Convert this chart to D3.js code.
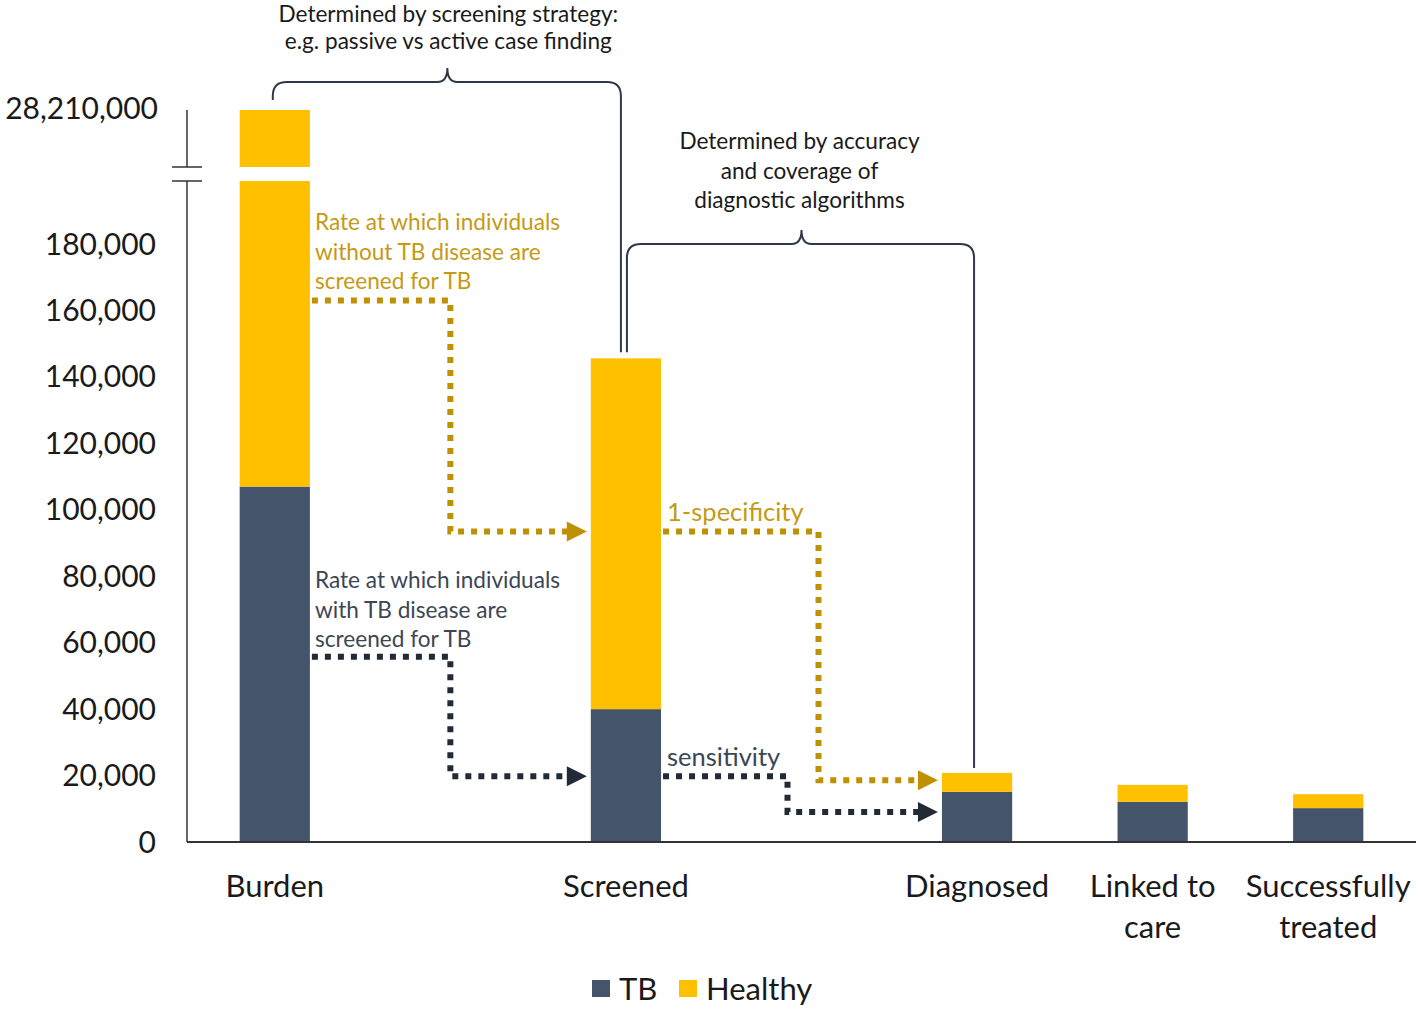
<!DOCTYPE html>
<html lang="en">
<head>
  <meta charset="UTF-8">
  <title>TB care cascade</title>
  <script src="https://d3js.org/d3.v7.min.js"></script>
  <style>
    body { margin: 0; background: #fff; }
    svg { font-family: Lato, "Open Sans", sans-serif; }
    .tick-label { font-size: 30px; fill: #1a1a1a; text-anchor: end; }
    .cat-label { font-size: 31px; fill: #1a1a1a; text-anchor: middle; }
    .note { font-size: 22.6px; }
  </style>
</head>
<body>
<svg width="1418" height="1009"></svg>
<script>
  // categories (two empty slots keep the spacing of the original)
  const categories = ["Burden", "gap1", "Screened", "gap2", "Diagnosed", "Linked to care", "Successfully treated"];
  const catLabels = {
    "Burden": ["Burden"],
    "Screened": ["Screened"],
    "Diagnosed": ["Diagnosed"],
    "Linked to care": ["Linked to", "care"],
    "Successfully treated": ["Successfully", "treated"]
  };
  const stages = ["Burden", "Screened", "Diagnosed", "Linked to care", "Successfully treated"];
  const tbValues = [107000, 40000, 15100, 12100, 10200];
  const totalValues = [28210000, 145600, 20800, 17200, 14400];
  const lowTicks = [0, 20000, 40000, 60000, 80000, 100000, 120000, 140000, 160000, 180000];
  const highTicks = [28210000];

  const colors = { tb: "#44546A", healthy: "#FFC000", gold: "#BF9000", dark: "#222A35" };

  const svg = d3.select("svg");

  const x = d3.scaleBand()
    .domain(categories)
    .range([187, 1416])
    .paddingInner(0.6)
    .paddingOuter(0.3);
  const bw = x.bandwidth();
  const cx = c => x(c) + bw / 2;

  // broken y axis: lower part and a small top part
  const yLow = d3.scaleLinear().domain([0, 199000]).range([842, 181]);
  const yHigh = d3.scaleLinear().domain([27500000, 28210000]).range([167, 110]);

  const rows = stages.map((s, i) => ({ stage: s, tb: tbValues[i], total: totalValues[i] }));

  // TB bars
  svg.selectAll(".bar-tb")
    .data(rows)
    .join("rect")
    .attr("fill", colors.tb)
    .attr("x", d => x(d.stage))
    .attr("width", bw)
    .attr("y", d => yLow(d.tb))
    .attr("height", d => yLow(0) - yLow(d.tb));

  // Healthy bars (lower part)
  svg.selectAll(".bar-h")
    .data(rows)
    .join("rect")
    .attr("fill", colors.healthy)
    .attr("x", d => x(d.stage))
    .attr("width", bw)
    .attr("y", d => yLow(Math.min(d.total, 199000)))
    .attr("height", d => yLow(d.tb) - yLow(Math.min(d.total, 199000)));

  // Healthy bars above the break
  svg.selectAll(".bar-hh")
    .data(rows.filter(d => d.total > 199000))
    .join("rect")
    .attr("fill", colors.healthy)
    .attr("x", d => x(d.stage))
    .attr("width", bw)
    .attr("y", d => yHigh(d.total))
    .attr("height", d => yHigh.range()[0] - yHigh(d.total));

  // axis lines
  const axisCol = "#333";
  svg.append("line").attr("x1", 187).attr("x2", 187)
    .attr("y1", yHigh(28210000)).attr("y2", yHigh.range()[0])
    .attr("stroke", axisCol).attr("stroke-width", 1.5);
  svg.append("line").attr("x1", 187).attr("x2", 187)
    .attr("y1", yLow.range()[1]).attr("y2", yLow(0))
    .attr("stroke", axisCol).attr("stroke-width", 1.5);
  [yHigh.range()[0], yLow.range()[1]].forEach(yy => {
    svg.append("line").attr("x1", 172).attr("x2", 202)
      .attr("y1", yy).attr("y2", yy)
      .attr("stroke", axisCol).attr("stroke-width", 1.5);
  });
  svg.append("line").attr("x1", 187).attr("x2", 1416)
    .attr("y1", yLow(0)).attr("y2", yLow(0))
    .attr("stroke", axisCol).attr("stroke-width", 2);

  const fmt = d3.format(",");
  svg.selectAll(".tl")
    .data(lowTicks)
    .join("text")
    .attr("class", "tick-label")
    .attr("x", 156)
    .attr("y", d => yLow(d))
    .attr("dy", "0.35em")
    .text(d => fmt(d));
  svg.selectAll(".th")
    .data(highTicks)
    .join("text")
    .attr("class", "tick-label")
    .attr("x", 158)
    .attr("y", d => yHigh(d))
    .attr("dy", "0.3em")
    .text(d => fmt(d));

  // category labels
  stages.forEach(s => {
    const t = svg.append("text").attr("class", "cat-label")
      .attr("x", cx(s)).attr("y", 897);
    catLabels[s].forEach((line, i) => {
      t.append("tspan").attr("x", cx(s)).attr("dy", i ? 41 : 0).text(line);
    });
  });

  // flow arrows (y in data units)
  const arrows = [
    { color: colors.gold, from: "Burden", y1: 163000, via: "gap1", off: 0, y2: 93500, to: "Screened" },
    { color: colors.dark, from: "Burden", y1: 55800, via: "gap1", off: 0, y2: 19800, to: "Screened" },
    { color: colors.gold, from: "Screened", y1: 93500, via: "gap2", off: 17, y2: 18600, to: "Diagnosed" },
    { color: colors.dark, from: "Screened", y1: 19800, via: "gap2", off: -14, y2: 9000, to: "Diagnosed" }
  ];
  arrows.forEach(a => {
    const x0 = x(a.from) + bw + 2;
    const xv = cx(a.via) + a.off;
    const xt = x(a.to) - 4;
    svg.append("path")
      .attr("d", `M${x0},${yLow(a.y1)}H${xv}V${yLow(a.y2)}H${xt - 18}`)
      .attr("fill", "none")
      .attr("stroke", a.color)
      .attr("stroke-width", 6)
      .attr("stroke-dasharray", "6,7");
    const ya = yLow(a.y2);
    svg.append("path")
      .attr("d", `M${xt - 20},${ya - 10}L${xt},${ya}L${xt - 20},${ya + 10}Z`)
      .attr("fill", a.color);
  });

  // notes next to the arrows
  function note(lines, x0, y0, color, anchor, size, lh) {
    const t = svg.append("text").attr("class", "note")
      .attr("x", x0).attr("y", y0).attr("fill", color)
      .attr("text-anchor", anchor || "start");
    if (size) t.style("font-size", size + "px");
    lines.forEach((l, i) => t.append("tspan").attr("x", x0).attr("dy", i ? (lh || 29.5) : 0).text(l));
  }
  note(["Rate at which individuals", "without TB disease are", "screened for TB"], 315, 230, "#C49A14");
  note(["Rate at which individuals", "with TB disease are", "screened for TB"], 315, 588, "#3B4656");
  note(["1-specificity"], x("Screened") + bw + 6, 521, "#C49A14", "start", 25.5);
  note(["sensitivity"], x("Screened") + bw + 6, 766, "#3B4656", "start", 25.5);
  note(["Determined by screening strategy:", "e.g. passive vs active case finding"], cx("gap1") - 2, 22, "#1a1a1a", "middle", 22.6, 27);
  note(["Determined by accuracy", "and coverage of", "diagnostic algorithms"], cx("gap2") - 2, 149, "#1a1a1a", "middle");

  // curly brackets
  function bracket(lx, ly, rx, ry, top, peakX) {
    const r = 14;
    const d = `M${lx},${ly}V${top + r}Q${lx},${top} ${lx + r},${top}` +
      `H${peakX - 10}Q${peakX},${top} ${peakX},${top - 14}Q${peakX},${top} ${peakX + 10},${top}` +
      `H${rx - r}Q${rx},${top} ${rx},${top + r}V${ry}`;
    svg.append("path").attr("d", d).attr("fill", "none")
      .attr("stroke", "#2F3846").attr("stroke-width", 2);
  }
  bracket(cx("Burden") - 2, 100, cx("Screened") - 5, yLow(totalValues[1]) - 6, 82, cx("gap1") - 3);
  bracket(cx("Screened") + 1, yLow(totalValues[1]) - 6, cx("Diagnosed") - 3, yLow(totalValues[2]) - 5, 244, cx("gap2"));

  // legend
  const legend = [{ k: "TB", c: colors.tb, x: 592 }, { k: "Healthy", c: colors.healthy, x: 679 }];
  legend.forEach(l => {
    svg.append("rect").attr("x", l.x).attr("y", 980).attr("width", 18).attr("height", 17).attr("fill", l.c);
    svg.append("text").attr("x", l.x + 27).attr("y", 1000)
      .attr("font-size", 31).attr("fill", "#1a1a1a").text(l.k);
  });
</script>
</body>
</html>
